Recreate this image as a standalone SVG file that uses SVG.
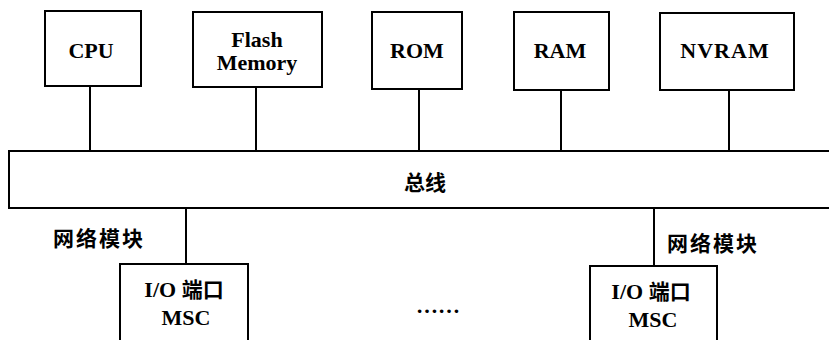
<svg xmlns="http://www.w3.org/2000/svg" width="829" height="340" viewBox="0 0 829 340">
<style>
.box{fill:#fff;stroke:#000;stroke-width:2}
.ln{stroke:#000;stroke-width:2;fill:none}
.en{font-family:'Liberation Serif','Times New Roman',serif;font-weight:700;font-size:22px;text-anchor:middle;fill:#000}
.cn{font-family:'Noto Sans CJK SC','Noto Sans',sans-serif;font-weight:700;font-size:21px;fill:#000}
</style>
<rect width="829" height="340" fill="#fff"/>
<g id="connectors">
<line class="ln" x1="90" y1="86" x2="90" y2="151"/>
<line class="ln" x1="256" y1="87" x2="256" y2="151"/>
<line class="ln" x1="419" y1="89" x2="419" y2="151"/>
<line class="ln" x1="561" y1="90" x2="561" y2="151"/>
<line class="ln" x1="729" y1="90" x2="729" y2="151"/>
<line class="ln" x1="186" y1="208" x2="186" y2="264"/>
<line class="ln" x1="654" y1="208" x2="654" y2="266"/>
</g>
<g id="cpu"><rect class="box" x="45" y="11" width="96" height="75"/><text class="en" x="91" y="58">CPU</text></g>
<g id="flash"><rect class="box" x="193" y="12" width="129" height="75"/><text class="en" x="257" y="47">Flash</text><text class="en" x="257" y="70">Memory</text></g>
<g id="rom"><rect class="box" x="372" y="12" width="90" height="77"/><text class="en" x="417" y="58">ROM</text></g>
<g id="ram"><rect class="box" x="514" y="12" width="95" height="78"/><text class="en" x="560" y="58">RAM</text></g>
<g id="nvram"><rect class="box" x="660" y="13" width="134" height="77"/><text class="en" x="725" y="58" letter-spacing="1">NVRAM</text></g>
<g id="bus"><path class="ln" d="M830,151 H9 V208 H830"/><text class="cn" x="425" y="190" text-anchor="middle" font-size="20">总线</text></g>
<g id="io1"><path class="ln" d="M120,341 V264 H248 V341"/><text class="en" x="184" y="297">I/O <tspan class="cn">端口</tspan></text><text class="en" x="186" y="325">MSC</text></g>
<g id="io2"><path class="ln" d="M590,341 V266 H717 V341"/><text class="en" x="651" y="299">I/O <tspan class="cn">端口</tspan></text><text class="en" x="653" y="327">MSC</text></g>
<text class="cn" x="53" y="246" letter-spacing="2">网络模块</text>
<text class="cn" x="667" y="251" letter-spacing="2">网络模块</text>
<text class="en" x="438" y="313" font-size="28">……</text>
</svg>
